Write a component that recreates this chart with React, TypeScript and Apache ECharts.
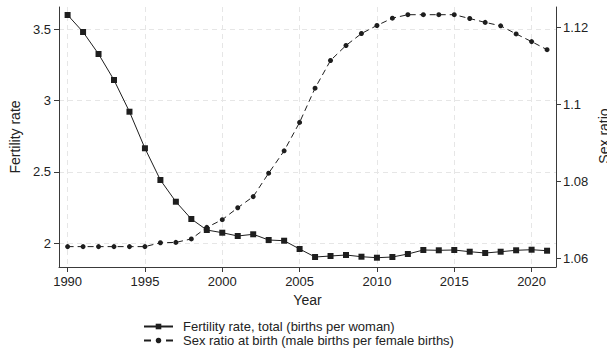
import React, { useEffect, useRef } from "react";
import * as echarts from "echarts";

const years = [
  1990, 1991, 1992, 1993, 1994, 1995, 1996, 1997, 1998, 1999, 2000, 2001, 2002, 2003, 2004, 2005,
  2006, 2007, 2008, 2009, 2010, 2011, 2012, 2013, 2014, 2015, 2016, 2017, 2018, 2019, 2020, 2021,
];
const fertilityRate = [
  3.598, 3.479, 3.325, 3.143, 2.921, 2.665, 2.443, 2.291, 2.17, 2.093, 2.074, 2.051, 2.063, 2.023, 2.018, 1.96,
  1.904, 1.911, 1.918, 1.906, 1.899, 1.904, 1.925, 1.953, 1.951, 1.953, 1.941, 1.932, 1.941, 1.951, 1.955, 1.948,
];
const sexRatio = [
  1.063, 1.063, 1.063, 1.063, 1.063, 1.063, 1.064, 1.0641, 1.065, 1.068, 1.07, 1.0731, 1.076, 1.0821, 1.0879, 1.0953,
  1.1042, 1.1114, 1.1153, 1.1184, 1.1205, 1.1224, 1.1233, 1.1233, 1.1233, 1.1233, 1.1223, 1.1213, 1.1204, 1.1183, 1.1163, 1.1142,
];
const xTicks = [1990, 1995, 2000, 2005, 2010, 2015, 2020];
const leftTicks = [2, 2.5, 3, 3.5];
const rightTicks = [1.06, 1.08, 1.1, 1.12];
const seriesNames = [
  "Fertility rate, total (births per woman)",
  "Sex ratio at birth (male births per female births)",
];
const rightTitle = "Sex ratio";

const FONT = "'Liberation Sans', Arial, Helvetica, sans-serif";
const INK = "#1e1e1e";
const AXIS = "#3a3a3a";
const GRID = "#e6e6e6";

export default function App() {
  const ref = useRef<HTMLDivElement>(null);
  useEffect(() => {
    if (!ref.current) return;
    const chart = echarts.init(ref.current, undefined, { renderer: "svg" });
    const axisLabelStyle = { color: "#222", fontSize: 13, fontFamily: FONT };
    chart.setOption({
      animation: false,
      backgroundColor: "#fff",
      textStyle: { fontFamily: FONT },
      grid: { left: 59, right: 51, top: 7, bottom: 87, containLabel: false },
      legend: {
        orient: "vertical",
        left: 143,
        top: 320,
        height: 34,
        padding: 0,
        itemWidth: 29,
        itemHeight: 7,
        itemGap: 1,
        data: [
          { name: seriesNames[0] },
          { name: seriesNames[1], lineStyle: { type: [7, 15] } },
        ],
        textStyle: { color: "#222", fontSize: 13, fontFamily: FONT, padding: [0, 0, 0, 5] },
      },
      graphic: [
        {
          type: "text",
          x: 604,
          y: 136,
          rotation: Math.PI / 2,
          style: {
            text: rightTitle,
            fill: "#222",
            font: `14px ${FONT}`,
            textAlign: "center",
            textVerticalAlign: "middle",
          },
        },
      ],
      xAxis: {
        type: "value",
        min: 1989.444,
        max: 2021.578,
        name: "Year",
        nameLocation: "middle",
        nameGap: 26,
        nameTextStyle: { color: "#222", fontSize: 14, fontFamily: FONT },
        axisLine: { show: true, onZero: false, lineStyle: { color: AXIS, width: 1 } },
        axisTick: { show: true, length: 5, lineStyle: { color: AXIS }, customValues: xTicks },
        axisLabel: { ...axisLabelStyle, margin: 8, customValues: xTicks, formatter: (v: number) => String(v) },
        splitLine: { show: true, lineStyle: { color: GRID, type: [5, 4], width: 1 } },
      },
      yAxis: [
        {
          type: "value",
          position: "left",
          min: 1.834,
          max: 3.654,
          name: "Fertility rate",
          nameLocation: "middle",
          nameGap: 37,
          nameTextStyle: { color: "#222", fontSize: 14, fontFamily: FONT },
          axisLine: { show: true, lineStyle: { color: AXIS, width: 1 } },
          axisTick: { show: true, length: 5, lineStyle: { color: AXIS }, customValues: leftTicks },
          axisLabel: { ...axisLabelStyle, margin: 8, customValues: leftTicks, formatter: (v: number) => String(v) },
          splitLine: { show: true, lineStyle: { color: GRID, type: [5, 4], width: 1 } },
        },
        {
          type: "value",
          position: "right",
          min: 1.0577,
          max: 1.1253,
          axisLine: { show: true, lineStyle: { color: AXIS, width: 1 } },
          axisTick: { show: true, length: 5, lineStyle: { color: AXIS }, customValues: rightTicks },
          axisLabel: { ...axisLabelStyle, margin: 7, customValues: rightTicks, formatter: (v: number) => String(v) },
          splitLine: { show: false },
        },
      ],
      series: [
        {
          name: seriesNames[0],
          type: "line",
          yAxisIndex: 0,
          data: years.map((y, i) => [y, fertilityRate[i]]),
          symbol: "rect",
          symbolSize: 6,
          itemStyle: { color: INK },
          lineStyle: { color: INK, width: 1 },
          z: 3,
        },
        {
          name: seriesNames[1],
          type: "line",
          yAxisIndex: 1,
          data: years.map((y, i) => [y, sexRatio[i]]),
          symbol: "circle",
          symbolSize: 5,
          itemStyle: { color: INK },
          lineStyle: { color: INK, width: 1, type: [6, 4] },
          z: 2,
        },
      ],
    });
    return () => chart.dispose();
  }, []);
  return (
    <div
      ref={ref}
      style={{ position: "absolute", left: 0, top: 0, width: 607, height: 354, background: "#fff" }}
    />
  );
}
